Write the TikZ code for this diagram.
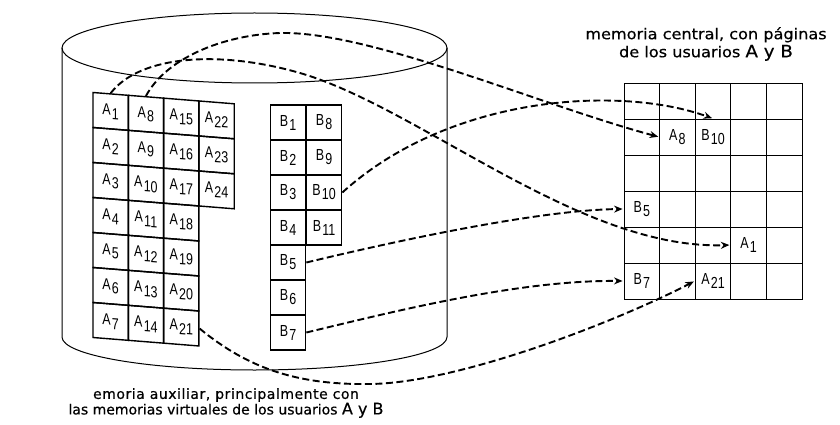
\documentclass[tikz,border=0pt]{standalone}
\usepackage{fontspec}
\setmainfont{DejaVu Sans}
\newfontfamily\labelfont[FakeStretch=1.075,FakeBold=0.5]{DejaVu Sans}
\newfontfamily\notefont[FakeBold=0.5]{DejaVu Sans}
\newfontfamily\cellfont[FakeStretch=0.78]{Liberation Sans}
\usetikzlibrary{arrows.meta,calc}
% page label: letter with a lowered index of the same size
\newcommand\pagelbl[2]{#1\hspace{1.2pt}\raisebox{-4pt}{#2}}

\tikzset{
  outline/.style={line width=1pt},
  cell/.style={draw, line width=1.4pt, minimum width=35.3pt, minimum height=35pt,
    inner sep=0pt, font=\cellfont\fontsize{16}{16}\selectfont},
  memcell/.style={draw, line width=0.9pt, minimum width=35.6pt, minimum height=36pt,
    inner sep=0pt},
  celltext/.style={inner sep=0pt, font=\cellfont\fontsize{16}{16}\selectfont},
  link/.style={line width=1.9pt, dash pattern=on 7pt off 3.5pt,
    -{Stealth[length=8.5pt,width=7pt]}, shorten >=1pt},
  caption/.style={align=center, inner sep=0pt}
}

\begin{document}
\begin{tikzpicture}[x=1pt,y=-1pt]
\useasboundingbox[fill=white] (0,0) rectangle (840,425);

% disk drum holding the auxiliary memory
\draw[outline] (254.5,48) ellipse [x radius=192.5pt, y radius=35pt];
\draw[outline] (62,48) -- (62,337)
  arc[start angle=180, end angle=360, x radius=192.5pt, y radius=33pt] -- (447,48);

% pages of user A, wrapped on the drum
\begin{scope}[shift={(93,92.5)}, yslant=-0.08, transform shape]
  \foreach \r in {1,...,7}
    \node[cell] (a\r) at (17.65, 35*\r-17.5) {\pagelbl{A}{\r}};
  \foreach \r [evaluate=\r as \n using int(\r+7)] in {1,...,7}
    \node[cell] (a\n) at (52.95, 35*\r-17.5) {\pagelbl{A}{\n}};
  \foreach \r [evaluate=\r as \n using int(\r+14)] in {1,...,7}
    \node[cell] (a\n) at (88.25, 35*\r-17.5) {\pagelbl{A}{\n}};
  \foreach \r [evaluate=\r as \n using int(\r+21)] in {1,...,3}
    \node[cell] (a\n) at (123.55, 35*\r-17.5) {\pagelbl{A}{\n}};
\end{scope}

% pages of user B
\foreach \r in {1,...,7}
  \node[cell] (b\r) at (288, 105+35*\r-17.5) {\pagelbl{B}{\r}};
\foreach \r [evaluate=\r as \n using int(\r+7)] in {1,...,4}
  \node[cell] (b\n) at (324, 105+35*\r-17.5) {\pagelbl{B}{\n}};

% main memory frames
\foreach \r in {1,...,6}
  \foreach \c in {1,...,5}
    \node[memcell] (m\r\c) at (624+35.6*\c-17.8, 83+36*\r-18) {};
\node[celltext] (ma8)  at (m22) {\pagelbl{A}{8}};
\node[celltext] (mb10) at (m23) {\pagelbl{B}{10}};
\node[celltext] (mb5)  at (m41) {\pagelbl{B}{5}};
\node[celltext] (ma1)  at (m54) {\pagelbl{A}{1}};
\node[celltext] (mb7)  at (m61) {\pagelbl{B}{7}};
\node[celltext] (ma21) at (m63) {\pagelbl{A}{21}};

% page transfers into main memory
\draw[link] (a1.north) .. controls (140,55) and (220,50) .. (300,73)
  .. controls (420,108) and (580,250) .. (m54.west);
\draw[link] (a8.north) .. controls (165,60) and (220,35) .. (280,33)
  .. controls (370,31) and (540,105) .. (m22.west);
\draw[link] (b10.east) .. controls (450,95) and (620,85) .. (m23.north);
\draw[link] (b5.east) .. controls (400,240) and (540,210) .. (m41.west);
\draw[link] (b7.east) .. controls (400,310) and (520,280) .. (m61.west);
\draw[link] (a21.east) .. controls (250,370) and (300,385) .. (370,384)
  .. controls (460,383) and (620,320) .. (m63.west);

% captions
\node[caption, font=\labelfont\fontsize{15}{18}\selectfont] (central) at (706,44)
  {memoria central, con páginas\\de los usuarios {\fontsize{17}{18}\selectfont A y B}};
\node[caption, font=\notefont\fontsize{14}{14}\selectfont] (auxiliar) at (226,403)
  {{\addfontfeature{LetterSpace=3.8}emoria auxiliar, principalmente con}\\
   las memorias virtuales de los usuarios {\fontsize{16}{14}\selectfont A y B}};
\end{tikzpicture}
\end{document}
